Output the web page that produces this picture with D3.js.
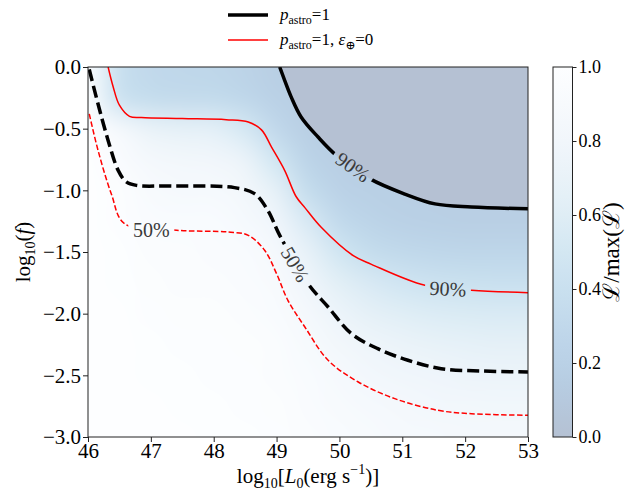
<!DOCTYPE html>
<html>
<head>
<meta charset="utf-8">
<script src="https://cdn.jsdelivr.net/npm/d3@7"></script>
<style>
body { margin: 0; background: #fff; }
</style>
</head>
<body>
<svg id="chart" width="626" height="490"></svg>
<script>
// tick values
var xTicks = [46, 47, 48, 49, 50, 51, 52, 53];
var yTicks = [0, -0.5, -1, -1.5, -2, -2.5, -3];
var cbTicks = [0, 0.2, 0.4, 0.6, 0.8, 1.0];

// likelihood grid (L / max L)
var gridX = [46, 46.5, 47, 47.5, 48, 48.5, 49, 49.5, 50, 50.5, 51, 51.5, 52, 52.5, 53];
var gridY = [0, -0.25, -0.5, -0.75, -1, -1.25, -1.5, -1.75, -2, -2.25, -2.5, -2.75, -3];
var likeRows = [
    [0.95, 0.40, 0.30, 0.28, 0.27, 0.23, 0.18, 0.18, 0.18, 0.18, 0.18, 0.18, 0.18, 0.18, 0.18],
    [0.97, 0.45, 0.36, 0.34, 0.33, 0.28, 0.20, 0.18, 0.18, 0.18, 0.18, 0.18, 0.18, 0.18, 0.18],
    [1.00, 0.86, 0.70, 0.66, 0.64, 0.52, 0.30, 0.18, 0.18, 0.18, 0.18, 0.18, 0.18, 0.18, 0.18],
    [1.00, 0.94, 0.85, 0.82, 0.80, 0.72, 0.48, 0.24, 0.18, 0.18, 0.18, 0.18, 0.18, 0.18, 0.18],
    [1.00, 0.97, 0.90, 0.88, 0.87, 0.82, 0.66, 0.36, 0.22, 0.19, 0.18, 0.18, 0.18, 0.18, 0.18],
    [1.00, 0.98, 0.94, 0.93, 0.92, 0.88, 0.78, 0.54, 0.32, 0.24, 0.21, 0.19, 0.18, 0.18, 0.18],
    [1.00, 0.99, 0.96, 0.95, 0.94, 0.92, 0.86, 0.68, 0.48, 0.36, 0.31, 0.28, 0.27, 0.27, 0.27],
    [1.00, 0.99, 0.97, 0.96, 0.96, 0.94, 0.90, 0.78, 0.63, 0.54, 0.47, 0.43, 0.41, 0.40, 0.40],
    [1.00, 1.00, 0.98, 0.97, 0.97, 0.96, 0.93, 0.85, 0.74, 0.66, 0.61, 0.58, 0.56, 0.55, 0.55],
    [1.00, 1.00, 0.99, 0.98, 0.98, 0.97, 0.95, 0.89, 0.82, 0.76, 0.72, 0.69, 0.67, 0.66, 0.66],
    [1.00, 1.00, 0.99, 0.99, 0.98, 0.98, 0.96, 0.92, 0.87, 0.83, 0.79, 0.77, 0.75, 0.74, 0.74],
    [1.00, 1.00, 1.00, 0.99, 0.99, 0.98, 0.97, 0.94, 0.90, 0.87, 0.85, 0.83, 0.82, 0.81, 0.81],
    [1.00, 1.00, 1.00, 1.00, 0.99, 0.99, 0.98, 0.96, 0.93, 0.90, 0.88, 0.87, 0.86, 0.85, 0.85]
];

// contours [log10 L0, log10 f]
var black90 = [[49.05, 0], [49.13, -0.11], [49.23, -0.24], [49.39, -0.405], [49.66, -0.568],
    [49.95, -0.716], [50.48, -0.905], [51.04, -1.03], [51.52, -1.11], [52.1, -1.135], [53, -1.15]];
var black50 = [[46.02, -0.02], [46.16, -0.30], [46.32, -0.595], [46.48, -0.838], [46.61, -0.932],
    [46.77, -0.96], [47.33, -0.965], [48.33, -0.978], [48.65, -1.027], [48.86, -1.162], [49.05, -1.365],
    [49.5, -1.757], [49.82, -1.946], [50.19, -2.162], [50.61, -2.284], [51.09, -2.378], [51.62, -2.446],
    [52.26, -2.465], [53, -2.473]];
var red90 = [[46.32, 0], [46.40, -0.16], [46.50, -0.31], [46.66, -0.40], [46.85, -0.41], [47.5, -0.418],
    [48.2, -0.427], [48.55, -0.446], [48.76, -0.51], [48.92, -0.65], [49.13, -0.84], [49.31, -1.05],
    [49.45, -1.14], [49.71, -1.30], [50.22, -1.53], [50.51, -1.60], [51.36, -1.77], [52.1, -1.81], [53, -1.83]];
var red50 = [[46.02, -0.38], [46.16, -0.676], [46.37, -1.027], [46.58, -1.27], [47.41, -1.324],
    [48.23, -1.338], [48.55, -1.365], [48.81, -1.486], [49.0, -1.676], [49.18, -1.892], [49.45, -2.108],
    [49.82, -2.378], [50.3, -2.554], [50.88, -2.689], [51.57, -2.784], [52.1, -2.811], [53, -2.824]];

// contour labels: [x, y, text, angle]
var labels = [
    [50.216, -0.811, "90%", 35],
    [49.298, -1.600, "50%", 60],
    [51.727, -1.798, "90%", 3],
    [47.007, -1.324, "50%", 0]
];

var SERIF = '"Liberation Serif", "DejaVu Serif", serif';

var margin = {top: 67, left: 88},
    width = 440,
    height = 370;

var svg = d3.select("#chart");

var x = d3.scaleLinear().domain([46, 53]).range([margin.left, margin.left + width]);
var y = d3.scaleLinear().domain([-3, 0]).range([margin.top + height, margin.top]);

// Blues_r at alpha 0.3 over white
function shade(v) {
    var c = d3.rgb(d3.interpolateBlues(1 - v));
    return d3.rgb(255 + (c.r - 255) * 0.3, 255 + (c.g - 255) * 0.3, 255 + (c.b - 255) * 0.3).formatHex();
}

var defs = svg.append("defs");
defs.append("clipPath").attr("id", "plotclip")
    .append("rect")
    .attr("x", margin.left).attr("y", margin.top)
    .attr("width", width).attr("height", height);

// heat map
var nc = gridX.length, nr = gridY.length;
var small = document.createElement("canvas");
small.width = nc;
small.height = nr;
var sctx = small.getContext("2d");
likeRows.forEach(function(row, j) {
    row.forEach(function(v, i) {
        sctx.fillStyle = shade(v);
        sctx.fillRect(i, j, 1, 1);
    });
});
var hx = (gridX[1] - gridX[0]) / 2, hy = (gridY[0] - gridY[1]) / 2;
var ix0 = x(gridX[0] - hx), ix1 = x(gridX[nc - 1] + hx);
var iy0 = y(gridY[0] + hy), iy1 = y(gridY[nr - 1] - hy);
var big = document.createElement("canvas");
big.width = Math.round(ix1 - ix0);
big.height = Math.round(iy1 - iy0);
var bctx = big.getContext("2d");
bctx.imageSmoothingEnabled = true;
bctx.imageSmoothingQuality = "high";
bctx.drawImage(small, 0, 0, big.width, big.height);

var plot = svg.append("g").attr("clip-path", "url(#plotclip)");
plot.append("image")
    .attr("href", big.toDataURL())
    .attr("x", ix0).attr("y", iy0)
    .attr("width", ix1 - ix0).attr("height", iy1 - iy0)
    .attr("preserveAspectRatio", "none");

// excluded region above the black 90% contour
plot.append("path")
    .datum(black90)
    .attr("fill", shade(0))
    .attr("d", d3.area()
        .x(function(d) { return x(d[0]); })
        .y0(y(0))
        .y1(function(d) { return y(d[1]); })
        .curve(d3.curveCatmullRom.alpha(0.5)));

// mask holes where contour labels sit
var mask = defs.append("mask").attr("id", "labelmask")
    .attr("maskUnits", "userSpaceOnUse")
    .attr("x", 0).attr("y", 0).attr("width", 626).attr("height", 490);
mask.append("rect").attr("width", 626).attr("height", 490).attr("fill", "#fff");
mask.selectAll(".hole")
    .data(labels)
    .enter().append("rect")
    .attr("x", -23).attr("y", -9).attr("width", 46).attr("height", 18)
    .attr("fill", "#000")
    .attr("transform", function(d) {
        return "translate(" + x(d[0]) + "," + y(d[1]) + ") rotate(" + d[3] + ")";
    });

var line = d3.line()
    .x(function(d) { return x(d[0]); })
    .y(function(d) { return y(d[1]); })
    .curve(d3.curveCatmullRom.alpha(0.5));

var lines = plot.append("g").attr("mask", "url(#labelmask)").attr("fill", "none");
lines.append("path").datum(red50).attr("d", line)
    .attr("stroke", "#ff0000").attr("stroke-width", 1.5).attr("stroke-dasharray", "5.5,2.4");
lines.append("path").datum(red90).attr("d", line)
    .attr("stroke", "#ff0000").attr("stroke-width", 1.5);
lines.append("path").datum(black50).attr("d", line)
    .attr("stroke", "#000").attr("stroke-width", 3.5).attr("stroke-dasharray", "12,5");
lines.append("path").datum(black90).attr("d", line)
    .attr("stroke", "#000").attr("stroke-width", 3.5);

plot.selectAll(".clabel")
    .data(labels)
    .enter().append("text")
    .attr("text-anchor", "middle")
    .attr("dominant-baseline", "central")
    .attr("font-size", 20)
    .style("fill", "#3a3a3a")
    .attr("transform", function(d) {
        return "translate(" + x(d[0]) + "," + y(d[1]) + ") rotate(" + d[3] + ")";
    })
    .text(function(d) { return d[2]; });

// frame
svg.append("rect")
    .attr("x", margin.left).attr("y", margin.top)
    .attr("width", width).attr("height", height)
    .attr("fill", "none").attr("stroke", "#222").attr("stroke-width", 1);

// axes
var fmt = d3.format(".1f");
var gx = svg.append("g")
    .attr("transform", "translate(0," + (margin.top + height) + ")")
    .call(d3.axisBottom(x).tickValues(xTicks).tickSize(5).tickSizeOuter(0).tickFormat(d3.format("d")));
var gy = svg.append("g")
    .attr("transform", "translate(" + margin.left + ",0)")
    .call(d3.axisLeft(y).tickValues(yTicks).tickSize(5).tickSizeOuter(0).tickFormat(fmt));
[gx, gy].forEach(function(g) {
    g.select(".domain").remove();
    g.selectAll("line").attr("stroke", "#222");
    g.selectAll("text").attr("font-size", 21).attr("fill", "#000");
});
gx.selectAll("text").attr("y", 6).attr("dy", "0.71em");
gy.selectAll("text").attr("x", -7);

// axis titles
var xl = svg.append("text")
    .attr("x", margin.left + width / 2).attr("y", 483)
    .attr("text-anchor", "middle").attr("font-size", 21);
xl.append("tspan").text("log");
xl.append("tspan").attr("font-size", 14).attr("dy", 5).text("10");
xl.append("tspan").attr("dy", -5).text("[");
xl.append("tspan").attr("font-style", "italic").text("L");
xl.append("tspan").attr("font-size", 14).attr("dy", 5).text("0");
xl.append("tspan").attr("dy", -5).text("(erg s");
xl.append("tspan").attr("font-size", 14).attr("dy", -9).text("\u22121");
xl.append("tspan").attr("dy", 9).text(")]");

var yl = svg.append("text")
    .attr("transform", "translate(30," + (margin.top + height / 2) + ") rotate(-90)")
    .attr("text-anchor", "middle").attr("font-size", 21);
yl.append("tspan").text("log");
yl.append("tspan").attr("font-size", 14).attr("dy", 5).text("10");
yl.append("tspan").attr("dy", -5).text("(");
yl.append("tspan").attr("font-style", "italic").text("f");
yl.append("tspan").text(")");

// colour bar
var cbX = 553, cbW = 19.5;
var cb = d3.scaleLinear().domain([0, 1]).range([margin.top + height, margin.top]);
var grad = defs.append("linearGradient").attr("id", "cbgrad")
    .attr("x1", 0).attr("y1", 1).attr("x2", 0).attr("y2", 0);
grad.selectAll("stop")
    .data(d3.range(0, 1.0001, 0.05))
    .enter().append("stop")
    .attr("offset", function(d) { return d; })
    .attr("stop-color", function(d) { return shade(d); });
svg.append("rect")
    .attr("x", cbX).attr("y", margin.top).attr("width", cbW).attr("height", height)
    .attr("fill", "url(#cbgrad)").attr("stroke", "#222").attr("stroke-width", 1);
var gc = svg.append("g")
    .attr("transform", "translate(" + (cbX + cbW) + ",0)")
    .call(d3.axisRight(cb).tickValues(cbTicks).tickSize(4).tickSizeOuter(0).tickFormat(fmt));
gc.select(".domain").remove();
gc.selectAll("line").attr("stroke", "#222");
gc.selectAll("text").attr("font-size", 18).attr("fill", "#000").attr("x", 6);

svg.append("text")
    .attr("transform", "translate(619," + (margin.top + height / 2) + ") rotate(-90)")
    .attr("text-anchor", "middle").attr("font-size", 23)
    .text("\u2112/max(\u2112)");

// legend
var legend = svg.append("g");
legend.append("line").attr("x1", 228).attr("x2", 268).attr("y1", 15).attr("y2", 15)
    .attr("stroke", "#000").attr("stroke-width", 3.5);
legend.append("line").attr("x1", 228).attr("x2", 268).attr("y1", 40).attr("y2", 40)
    .attr("stroke", "#ff0000").attr("stroke-width", 1.5);
var t1 = legend.append("text").attr("x", 280).attr("y", 20).attr("font-size", 17);
t1.append("tspan").attr("font-style", "italic").text("p");
t1.append("tspan").attr("font-size", 12).attr("dy", 4).text("astro");
t1.append("tspan").attr("dy", -4).text("=1");
var t2 = legend.append("text").attr("x", 280).attr("y", 45).attr("font-size", 17);
t2.append("tspan").attr("font-style", "italic").text("p");
t2.append("tspan").attr("font-size", 12).attr("dy", 4).text("astro");
t2.append("tspan").attr("dy", -4).text("=1, ");
t2.append("tspan").attr("font-style", "italic").text("\u03b5");
t2.append("tspan").attr("font-size", 12).attr("dy", 4).text("\u2295");
t2.append("tspan").attr("dy", -4).text("=0");

// serif everywhere
svg.selectAll("text").style("font-family", SERIF);
</script>
</body>
</html>
